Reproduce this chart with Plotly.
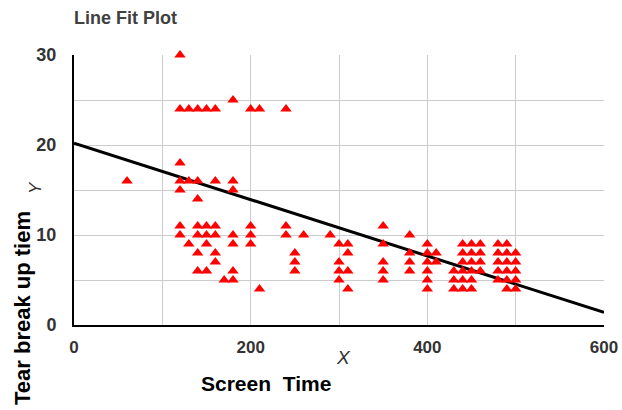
import plotly.graph_objects as go

# Scatter data (Screen Time vs Tear break up time)
screen_time = [
    120, 120, 130, 140, 150, 160, 180, 200, 210, 240,
    60, 120, 120, 120, 130, 140, 160, 180, 180, 140,
    120, 120, 130, 140, 140, 140, 140, 150, 150, 150, 150,
    160, 160, 160, 160, 170, 180, 180, 180, 180, 200, 200, 200, 210,
    240, 240, 250, 250, 250, 260, 290,
    300, 300, 300, 300, 310, 310, 310, 310,
    350, 350, 350, 350, 350, 380, 380, 380, 380,
    400, 400, 400, 400, 400, 400, 410, 410,
    430, 430, 430, 440, 440, 440, 440, 440, 440,
    450, 450, 450, 450, 450, 450, 460, 460, 460, 460,
    480, 480, 480, 480, 480, 490, 490, 490, 490, 490, 490,
    500, 500, 500, 500, 500,
]
tear_breakup = [
    24, 30, 24, 24, 24, 24, 25, 24, 24, 24,
    16, 18, 16, 15, 16, 16, 16, 16, 15, 14,
    11, 10, 9, 11, 10, 8, 6, 11, 10, 9, 6,
    11, 10, 8, 7, 5, 10, 9, 6, 5, 11, 10, 9, 4,
    11, 10, 8, 7, 6, 10, 10,
    9, 7, 6, 5, 9, 8, 6, 4,
    11, 9, 7, 6, 5, 10, 8, 7, 6,
    9, 8, 7, 6, 5, 4, 8, 7,
    6, 5, 4, 9, 8, 7, 6, 5, 4,
    9, 8, 7, 6, 5, 4, 9, 8, 7, 6,
    9, 8, 7, 6, 5, 9, 8, 7, 6, 5, 4,
    8, 7, 6, 5, 4,
]

# Fitted line end points
fit_x = [0, 600]
fit_y = [20.2, 1.4]

x_ticks = [0, 200, 400, 600]
y_ticks = [0, 10, 20, 30]

FONT = "Liberation Sans, Arial, sans-serif"

fig = go.Figure()
fig.add_trace(go.Scatter(
    x=fit_x, y=fit_y, mode="lines", cliponaxis=False,
    line=dict(color="black", width=3), showlegend=False, hoverinfo="skip"))
fig.add_trace(go.Scatter(
    x=screen_time, y=tear_breakup, mode="markers", cliponaxis=False,
    marker=dict(symbol="triangle-up", color="#ff0000", size=10, line=dict(width=0)),
    showlegend=False))

L, R, T, B = 74, 18, 55, 85
W, H = 622, 410
pw, ph = W - L - R, H - T - B

def px(xp):
    return (xp - L) / pw

def py(yp):
    return (H - B - yp) / ph

def label(text, x, y, size, color="black", angle=0, xanchor="center"):
    return dict(text=text, xref="paper", yref="paper", x=px(x), y=py(y),
                xanchor=xanchor, yanchor="middle", textangle=angle,
                showarrow=False, font=dict(size=size, color=color, family=FONT))

fig.update_layout(
    width=W, height=H,
    margin=dict(l=L, r=R, t=T, b=B, pad=0, autoexpand=False),
    paper_bgcolor="white", plot_bgcolor="white",
    font=dict(family=FONT, color="#333333"),
    xaxis=dict(range=[0, 600], tickvals=x_ticks, ticktext=[f"<b>{v}</b>" for v in x_ticks],
               showgrid=True, gridcolor="#cccccc", gridwidth=1,
               minor=dict(dtick=100, showgrid=True, gridcolor="#cccccc"),
               showline=True, linecolor="black", linewidth=2,
               zeroline=False, ticks="", ticklabelstandoff=6,
               tickfont=dict(size=17, color="#333333"),
               automargin=False, fixedrange=True),
    yaxis=dict(range=[0, 30], tickvals=y_ticks, ticktext=[f"<b>{v}</b>" for v in y_ticks],
               showgrid=True, gridcolor="#cccccc", gridwidth=1,
               minor=dict(dtick=5, showgrid=True, gridcolor="#cccccc"),
               showline=True, linecolor="black", linewidth=2,
               zeroline=False, ticks="", ticklabelstandoff=12,
               tickfont=dict(size=18, color="#333333"),
               automargin=False, fixedrange=True),
    annotations=[
        label("<b>Line Fit Plot</b>", 72, 18, 18, "#404040", xanchor="left"),
        label("<i>X</i>", 343, 357, 19, "#333333"),
        label("<b>Screen&nbsp;&nbsp;Time</b>", 266, 383, 21),
        label("<b>Tear break up tiem</b>", 22, 308, 22, angle=-90),
        label("<i>Y</i>", 35, 188, 17, "#333333", angle=-90),
    ],
)

fig.write_html("out.html", config={"displayModeBar": False},
               post_script="document.body.style.margin='0';document.body.style.padding='0';")
